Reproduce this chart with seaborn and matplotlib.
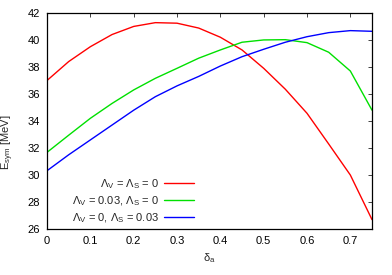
import numpy as np
import pandas as pd
import matplotlib
matplotlib.use("Agg")
import matplotlib.pyplot as plt
import seaborn as sns

# delta_a grid and symmetry energy curves
delta_a = [0.0, 0.05, 0.1, 0.15, 0.2, 0.25, 0.3, 0.35, 0.4, 0.45, 0.5, 0.55, 0.6, 0.65, 0.7, 0.75]
esym_red = [37.0, 38.4, 39.5, 40.4, 41.0, 41.28, 41.24, 40.88, 40.2, 39.26, 37.9, 36.35, 34.57, 32.3, 30.0, 26.7]
esym_green = [31.68, 32.95, 34.2, 35.3, 36.3, 37.16, 37.9, 38.65, 39.26, 39.83, 40.0, 40.02, 39.8, 39.09, 37.7, 34.8]
esym_blue = [30.32, 31.5, 32.6, 33.7, 34.8, 35.8, 36.6, 37.3, 38.07, 38.76, 39.31, 39.83, 40.24, 40.54, 40.69, 40.64]

labels = [r'$\mathregular{\Lambda_V}$ = $\mathregular{\Lambda_S}$ = 0',
          r'$\mathregular{\Lambda_V}$ = 0.03, $\mathregular{\Lambda_S}$ = 0',
          r'$\mathregular{\Lambda_V}$ = 0, $\mathregular{\Lambda_S}$ = 0.03']
colors = ['#ff0000', '#00e000', '#0000ff']

xticks = [0, 0.1, 0.2, 0.3, 0.4, 0.5, 0.6, 0.7]
xticklabels = ['0', '0.1', '0.2', '0.3', '0.4', '0.5', '0.6', '0.7']
yticks = [26, 28, 30, 32, 34, 36, 38, 40, 42]

sns.set_style("white")
plt.rcParams['font.family'] = ['Liberation Sans', 'DejaVu Sans']
plt.rcParams['mathtext.fontset'] = 'custom'
plt.rcParams['mathtext.rm'] = 'Liberation Sans'
plt.rcParams['mathtext.it'] = 'Liberation Sans'
plt.rcParams['font.size'] = 8

df = pd.DataFrame({
    'delta_a': delta_a * 3,
    'esym': esym_red + esym_green + esym_blue,
    'model': [labels[0]] * len(delta_a) + [labels[1]] * len(delta_a) + [labels[2]] * len(delta_a),
})

fig, ax = plt.subplots(figsize=(3.92, 2.75), dpi=100)
fig.subplots_adjust(left=0.12, right=0.949, bottom=0.167, top=0.953)

sns.lineplot(data=df, x='delta_a', y='esym', hue='model', palette=colors,
             linewidth=1.0, ax=ax, sort=False)

ax.set_xlim(0, 0.75)
ax.set_ylim(26, 42)
ax.set_xticks(xticks)
ax.set_xticklabels(xticklabels)
ax.set_yticks(yticks)
ax.tick_params(direction='in', top=True, right=True, length=3, width=0.6,
               labelsize=8, pad=5, colors='#222222', labelcolor='black')
for s in ax.spines.values():
    s.set_color('black')
    s.set_linewidth(0.9)

ax.set_xlabel(r'$\mathregular{\delta_a}$', fontsize=8)
ax.xaxis.label.set_va('center')
ax.xaxis.set_label_coords(0.5, -0.134)
ax.set_ylabel(r'$\mathregular{E_{sym}}$ [MeV]', fontsize=8)
ax.yaxis.label.set_va('center')
ax.yaxis.set_label_coords(-0.12, 0.40)

handles, labs = ax.get_legend_handles_labels()
ax.legend(handles, labs, loc='lower right', bbox_to_anchor=(0.452, 0.02),
          frameon=False, markerfirst=False, fontsize=8, handlelength=2.7,
          handletextpad=0.45, labelspacing=0.3, borderpad=0, borderaxespad=0)

fig.savefig('out.png', dpi=100)
